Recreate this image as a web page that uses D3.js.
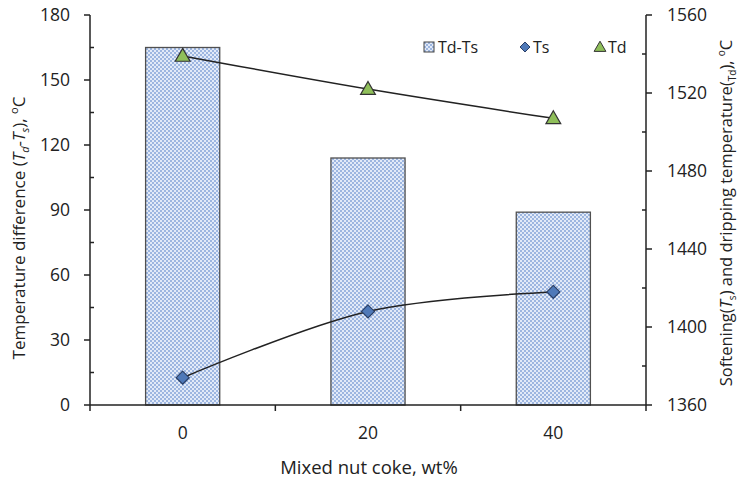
<!DOCTYPE html>
<html><head><meta charset="utf-8">
<script src="https://cdn.jsdelivr.net/npm/d3@7"></script>
<style>body{margin:0;background:#fff}svg{display:block}text{font-family:"Open Sans",sans-serif;fill:#222}</style>
</head><body>
<svg id="c" width="740" height="479"></svg>
<script>
const categories = ["0", "20", "40"];
const diffValues = [165, 114, 89];
const tsValues = [1374, 1408, 1418];
const tdValues = [1539, 1522, 1507];
const leftTicks = [0, 30, 60, 90, 120, 150, 180];
const rightTicks = [1360, 1400, 1440, 1480, 1520, 1560];

const svg = d3.select("#c");
const L = 90, R = 646, T = 15, B = 405;
const x = d3.scaleBand().domain(categories).range([L, R]).paddingInner(0.6).paddingOuter(0.3);
const xc = d => x(d) + x.bandwidth() / 2;
const yL = d3.scaleLinear().domain([0, 180]).range([B, T]);
const yR = d3.scaleLinear().domain([1360, 1560]).range([B, T]);

const defs = svg.append("defs");
const pat = defs.append("pattern").attr("id", "chk").attr("patternUnits", "userSpaceOnUse").attr("width", 4).attr("height", 4);
pat.append("rect").attr("width", 4).attr("height", 4).attr("fill", "#9db6e0");
pat.append("rect").attr("width", 2).attr("height", 2).attr("fill", "#e2eaf8");
pat.append("rect").attr("x", 2).attr("y", 2).attr("width", 2).attr("height", 2).attr("fill", "#e2eaf8");

svg.selectAll(".bar").data(categories).join("rect")
  .attr("x", d => x(d)).attr("width", x.bandwidth())
  .attr("y", (d, i) => yL(diffValues[i])).attr("height", (d, i) => B - yL(diffValues[i]))
  .attr("fill", "url(#chk)").attr("stroke", "#505050").attr("stroke-width", 1.3);

const line = d3.line().curve(d3.curveCatmullRom.alpha(0.5));
svg.append("path").attr("d", line(categories.map((c, i) => [xc(c), yR(tdValues[i])])))
  .attr("fill", "none").attr("stroke", "#222").attr("stroke-width", 1.5);
svg.append("path").attr("d", line(categories.map((c, i) => [xc(c), yR(tsValues[i])])))
  .attr("fill", "none").attr("stroke", "#222").attr("stroke-width", 1.5);

const tri = d3.symbol().type(d3.symbolTriangle).size(95);
const diamond = r => `M0,${-r}L${r},0L0,${r}L${-r},0Z`;
svg.selectAll(".td").data(categories).join("path")
  .attr("d", tri).attr("transform", (d, i) => `translate(${xc(d)},${yR(tdValues[i]) + 1})`)
  .attr("fill", "#8fbf5a").attr("stroke", "#333").attr("stroke-width", 1.2);
svg.selectAll(".ts").data(categories).join("path")
  .attr("d", diamond(6.5)).attr("transform", (d, i) => `translate(${xc(d)},${yR(tsValues[i])})`)
  .attr("fill", "#4f79b8").attr("stroke", "#2a3f66").attr("stroke-width", 1.2);

const ax = svg.append("g").attr("stroke", "#222").attr("stroke-width", 1.5);
ax.append("line").attr("x1", L).attr("x2", L).attr("y1", T).attr("y2", B);
ax.append("line").attr("x1", R).attr("x2", R).attr("y1", T).attr("y2", B);
ax.append("line").attr("x1", L).attr("x2", R).attr("y1", B).attr("y2", B);
leftTicks.forEach(v => {
  ax.append("line").attr("x1", L - 6).attr("x2", L).attr("y1", yL(v)).attr("y2", yL(v));
  if (v < 180) ax.append("line").attr("x1", L).attr("x2", L + 4).attr("y1", yL(v + 15)).attr("y2", yL(v + 15));
});
rightTicks.forEach(v => {
  ax.append("line").attr("x1", R).attr("x2", R + 6).attr("y1", yR(v)).attr("y2", yR(v));
  if (v < 1560) ax.append("line").attr("x1", R - 4).attr("x2", R).attr("y1", yR(v + 20)).attr("y2", yR(v + 20));
});
[L, (L * 2 + R) / 3, (L + 2 * R) / 3, R].forEach(px => {
  ax.append("line").attr("x1", px).attr("x2", px).attr("y1", B).attr("y2", B + 6);
});

svg.selectAll(".lt").data(leftTicks).join("text").attr("x", 70).attr("y", d => yL(d)).attr("dy", "0.36em")
  .attr("text-anchor", "end").attr("font-size", 17.5).text(d => d);
svg.selectAll(".rt").data(rightTicks).join("text").attr("x", 667).attr("y", d => yR(d)).attr("dy", "0.36em")
  .attr("text-anchor", "start").attr("font-size", 17.5).text(d => d);
svg.selectAll(".xt").data(categories).join("text").attr("x", d => xc(d)).attr("y", 433).attr("dy", "0.36em")
  .attr("text-anchor", "middle").attr("font-size", 17.5).text(d => d);

svg.append("text").attr("x", 369).attr("y", 474).attr("text-anchor", "middle").attr("font-size", 18.5).text("Mixed nut coke, wt%");

const lt = svg.append("text").attr("transform", "translate(25,228) rotate(-90)").attr("text-anchor", "middle").attr("font-size", 17);
lt.append("tspan").text("Temperature difference (");
lt.append("tspan").attr("font-style", "italic").text("T");
lt.append("tspan").attr("font-style", "italic").attr("font-size", 11).attr("dy", 4).text("d");
lt.append("tspan").attr("dy", -4).text("-");
lt.append("tspan").attr("font-style", "italic").text("T");
lt.append("tspan").attr("font-style", "italic").attr("font-size", 11).attr("dy", 4).text("s");
lt.append("tspan").attr("dy", -4).text("), ");
lt.append("tspan").attr("font-size", 11).attr("dy", -7).text("o");
lt.append("tspan").attr("dy", 7).text("C");

const rt = svg.append("text").attr("transform", "translate(732,213) rotate(-90)").attr("text-anchor", "middle").attr("font-size", 16.5);
rt.append("tspan").text("Softening(");
rt.append("tspan").attr("font-style", "italic").text("T");
rt.append("tspan").attr("font-size", 10).attr("dy", 4).text("s");
rt.append("tspan").attr("dy", -4).text(") and dripping temperature(");
rt.append("tspan").attr("font-size", 10).attr("dy", 4).text("Td");
rt.append("tspan").attr("dy", -4).text("), ");
rt.append("tspan").attr("font-size", 10).attr("dy", -7).text("o");
rt.append("tspan").attr("dy", 7).text("C");

const lg = svg.append("g");
lg.append("rect").attr("x", 424).attr("y", 42).attr("width", 10).attr("height", 10).attr("fill", "url(#chk)").attr("stroke", "#444");
lg.append("text").attr("x", 438).attr("y", 47).attr("dy", "0.36em").attr("font-size", 16).text("Td-Ts");
lg.append("path").attr("d", diamond(5)).attr("transform", "translate(525,47)").attr("fill", "#4f79b8").attr("stroke", "#2a3f66");
lg.append("text").attr("x", 533).attr("y", 47).attr("dy", "0.36em").attr("font-size", 16).text("Ts");
lg.append("path").attr("d", d3.symbol().type(d3.symbolTriangle).size(60)).attr("transform", "translate(600,48)").attr("fill", "#8fbf5a").attr("stroke", "#333");
lg.append("text").attr("x", 608).attr("y", 47).attr("dy", "0.36em").attr("font-size", 16).text("Td");
</script>
</body></html>
